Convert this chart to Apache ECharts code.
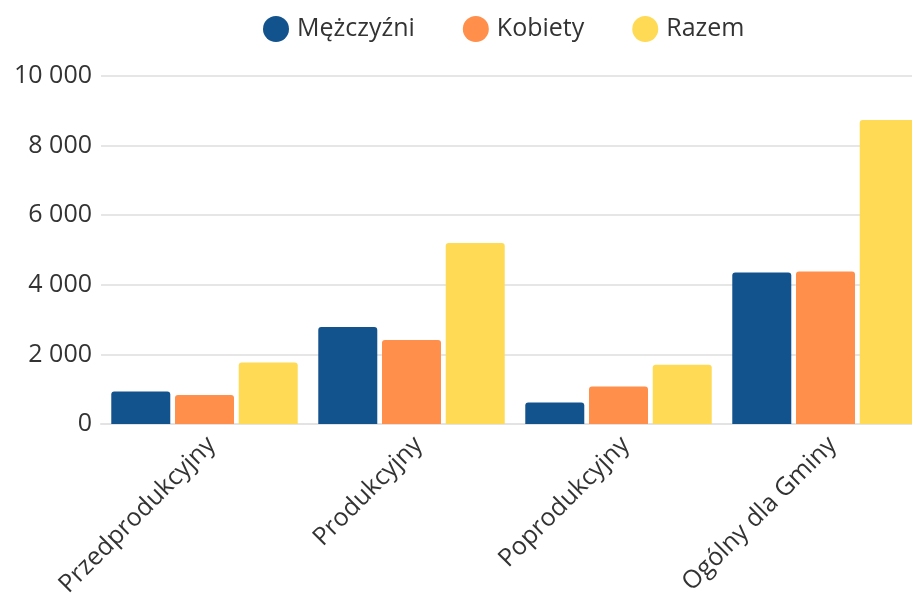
<!DOCTYPE html>
<html>
<head>
<meta charset="utf-8">
<script src="https://cdn.jsdelivr.net/npm/echarts@6/dist/echarts.min.js"></script>
<style>
  html, body { margin: 0; padding: 0; background: #fff; }
  #wykres { width: 912px; height: 603px; }
</style>
</head>
<body>
<div id="wykres"></div>
<script>
// dane
var kategorie = ['Przedprodukcyjny', 'Produkcyjny', 'Poprodukcyjny', 'Ogólny dla Gminy'];
var mezczyzni = [937, 2787, 621, 4356];
var kobiety = [833, 2414, 1080, 4380];
var razem = [1770, 5201, 1701, 8736];
var osY = [0, 2000, 4000, 6000, 8000, 10000];

var chart = echarts.init(document.getElementById('wykres'));

function formatTys(v) {
  return String(v).replace(/\B(?=(\d{3})+(?!\d))/g, ' ');
}

var fnt = '"Open Sans", sans-serif';

chart.setOption({
  animation: false,
  color: ['#12528d', '#ff8f4a', '#ffda55'],
  textStyle: { fontFamily: fnt },
  legend: {
    left: 258,
    top: 11,
    icon: 'circle',
    itemWidth: 26,
    itemHeight: 26,
    itemGap: 48,
    textStyle: { fontSize: 25, color: '#333', fontFamily: fnt, padding: [0, 0, 0, 3] },
    data: ['Mężczyźni', 'Kobiety', 'Razem']
  },
  grid: {
    left: 101,
    width: 828,
    top: 76,
    bottom: 179,
    containLabel: false,
    outerBoundsMode: 'none'
  },
  xAxis: {
    type: 'category',
    data: kategorie,
    axisTick: { show: false },
    axisLine: { lineStyle: { color: '#e3e3e3', width: 2 } },
    axisLabel: {
      rotate: 45,
      fontSize: 25,
      color: '#333',
      margin: 24,
      padding: [0, -10, 0, 0],
      interval: 0
    }
  },
  yAxis: {
    type: 'value',
    min: osY[0],
    max: osY[osY.length - 1],
    interval: 2000,
    axisLine: { show: false },
    axisTick: { show: false },
    splitLine: { lineStyle: { color: '#e6e6e6', width: 2 } },
    axisLabel: {
      fontSize: 25,
      color: '#333',
      margin: 9,
      formatter: function (v) { return formatTys(v); }
    }
  },
  series: [
    { name: 'Mężczyźni', type: 'bar', data: mezczyzni, barWidth: 59, barGap: '8%',
      itemStyle: { borderRadius: [3, 3, 0, 0] } },
    { name: 'Kobiety', type: 'bar', data: kobiety, barWidth: 59,
      itemStyle: { borderRadius: [3, 3, 0, 0] } },
    { name: 'Razem', type: 'bar', data: razem, barWidth: 59,
      itemStyle: { borderRadius: [3, 3, 0, 0] } }
  ]
});
</script>
</body>
</html>
